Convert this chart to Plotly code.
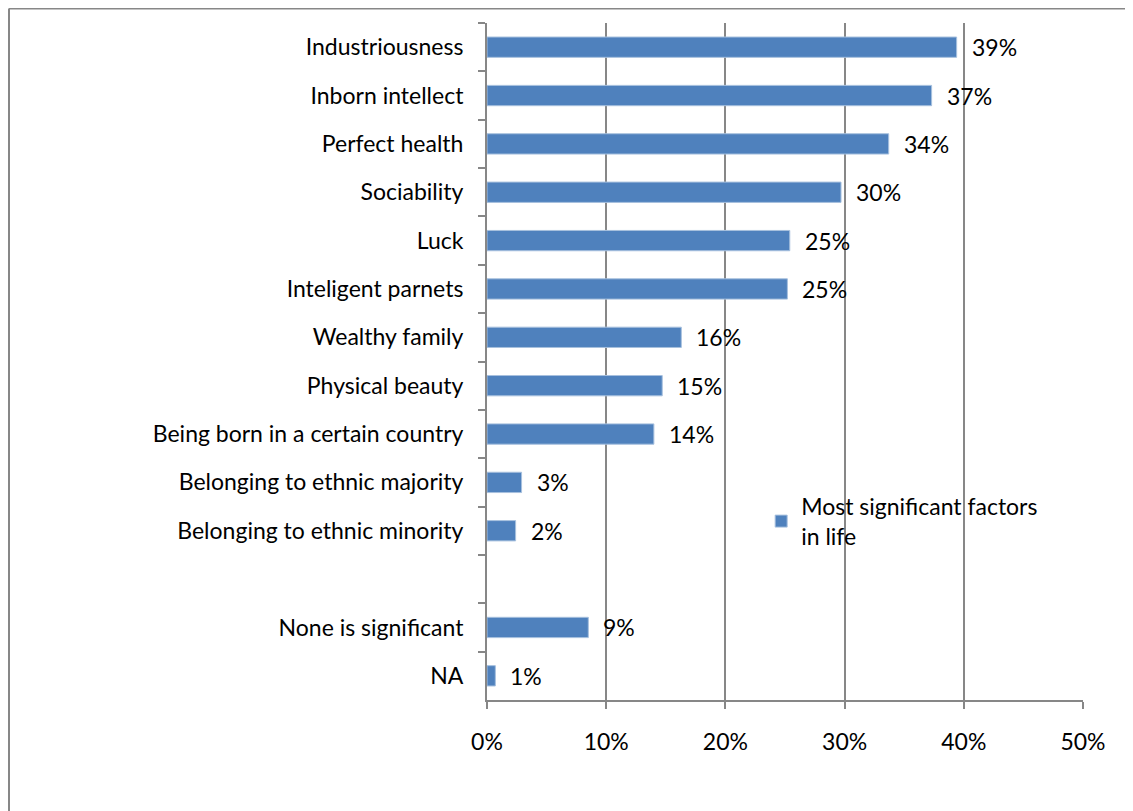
import plotly.graph_objects as go

categories = ["Industriousness", "Inborn intellect", "Perfect health", "Sociability", "Luck",
              "Inteligent parnets", "Wealthy family", "Physical beauty",
              "Being born in a certain country", "Belonging to ethnic majority",
              "Belonging to ethnic minority", " ", "None is significant", "NA"]
values = [0.394, 0.373, 0.337, 0.297, 0.254, 0.252, 0.163, 0.147, 0.140, 0.029, 0.024, None, 0.085, 0.007]
labels = ["39%", "37%", "34%", "30%", "25%", "25%", "16%", "15%", "14%", "3%", "2%", "", "9%", "1%"]
x_ticks = [0, 0.1, 0.2, 0.3, 0.4, 0.5]
x_tick_labels = ["0%", "10%", "20%", "30%", "40%", "50%"]
series_name = "Most significant factors<br>in life"

FONT = "Lato"
FS = 23
GRAY = "#878787"

# page has an 8px body margin; plot area target: x 487..1083, y 23..700 on page
L, T = 479, 15
PW, PH = 596, 677
W, H = 1125, 803

fig = go.Figure()
fig.add_trace(go.Bar(
    y=categories, x=values, orientation="h", name=series_name,
    marker=dict(color="#4F81BD", line=dict(color="#A7C0DE", width=1)),
    width=0.42,
))

annotations = []
for c, v, t in zip(categories, values, labels):
    if v is None:
        continue
    annotations.append(dict(x=v, y=c, xref="x", yref="y", text=t, showarrow=False,
                            xanchor="left", yanchor="middle", xshift=13,
                            font=dict(family=FONT, size=FS, color="#000000")))

bx0 = (1 - L) / PW
by1 = (T + PH - 0.5) / PH
fig.update_layout(
    width=W, height=H,
    margin=dict(l=L, r=W - L - PW, t=T, b=H - T - PH),
    paper_bgcolor="white", plot_bgcolor="white",
    font=dict(family=FONT, size=FS, color="#000000"),
    showlegend=True,
    legend=dict(x=0.46, y=0.318, xanchor="left", yanchor="top",
                bgcolor="rgba(0,0,0,0)", font=dict(family=FONT, size=FS),
                itemwidth=30, tracegroupgap=0),
    annotations=annotations,
    shapes=[
        dict(type="line", xref="paper", yref="paper", x0=bx0, x1=(W - L) / PW, y0=by1, y1=by1,
             line=dict(color=GRAY, width=2), layer="below"),
        dict(type="line", xref="paper", yref="paper", x0=bx0, x1=bx0, y0=by1, y1=-(H - T - PH) / PH,
             line=dict(color=GRAY, width=2), layer="below"),
    ],
)
fig.update_xaxes(
    range=[0, 0.5], tickvals=x_ticks, ticktext=x_tick_labels,
    showgrid=True, gridcolor=GRAY, gridwidth=1.5,
    showline=True, linecolor=GRAY, linewidth=2,
    ticks="outside", ticklen=7, tickcolor=GRAY, tickwidth=1.5,
    zeroline=False, ticklabelstandoff=13,
    tickfont=dict(family=FONT, size=FS),
)
fig.update_yaxes(
    categoryorder="array", categoryarray=categories, autorange="reversed",
    type="category",
    showline=True, linecolor=GRAY, linewidth=2,
    ticks="outside", tickson="boundaries", ticklen=7, tickcolor=GRAY, tickwidth=1.5,
    showgrid=False, ticklabelstandoff=17,
    tickfont=dict(family=FONT, size=FS),
)

fig.write_html("out.html")
